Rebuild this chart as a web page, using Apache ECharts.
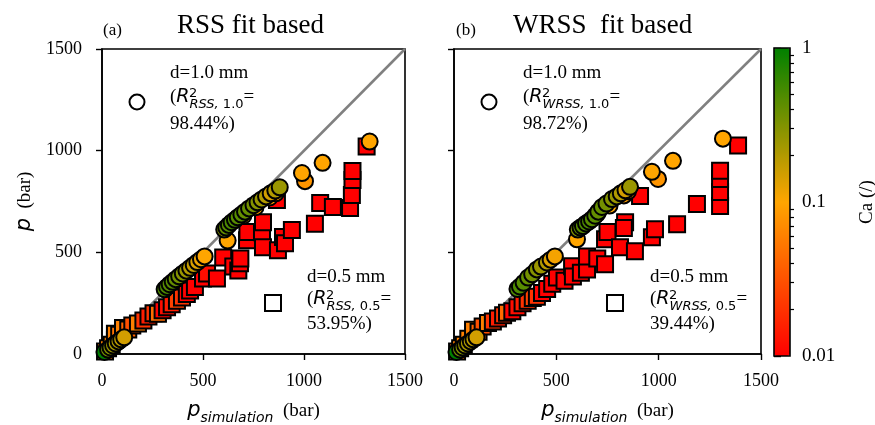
<!DOCTYPE html>
<html>
<head>
<meta charset="utf-8">
<script src="https://cdn.jsdelivr.net/npm/echarts@6/dist/echarts.min.js"></script>
<style>
  html, body { margin: 0; padding: 0; background: #fff; }
  #chart { width: 875px; height: 425px; }
</style>
</head>
<body>
<div id="chart"></div>
<script>
// pressure axes (bar) and colour bar (Ca, log scale)
var pTicks = [0, 500, 1000, 1500];
var caTicks = [0.01, 0.1, 1];
var caMinor = [0.02, 0.03, 0.04, 0.05, 0.06, 0.07, 0.08, 0.09, 0.2, 0.3, 0.4, 0.5, 0.6, 0.7, 0.8, 0.9];
var diag = [0, 1500];

// [p_simulation, p, Ca]  -- (a) RSS fit, d=1.0 mm circles
var circA = [
  [12, 10, 1.0], [30, 22, 0.35], [42, 32, 0.3], [55, 42, 0.25], [68, 52, 0.22], [82, 62, 0.2], [95, 72, 0.18], [110, 82, 0.15],
  [310, 318, 0.5], [322, 330, 0.5], [335, 343, 0.45], [350, 355, 0.45], [365, 368, 0.4], [382, 382, 0.35], [400, 396, 0.3],
  [418, 410, 0.25], [436, 424, 0.2], [454, 438, 0.17], [472, 452, 0.14], [490, 466, 0.12], [508, 480, 0.1],
  [622, 558, 0.1], [700, 680, 0.12], [760, 722, 0.1], [830, 770, 0.09], [860, 790, 0.1],
  [605, 612, 0.3], [615, 622, 0.4], [628, 635, 0.45], [642, 648, 0.5], [658, 660, 0.5], [672, 672, 0.45], [690, 686, 0.45],
  [708, 700, 0.4], [728, 716, 0.4], [750, 732, 0.35], [770, 746, 0.3], [790, 760, 0.25], [812, 775, 0.2], [835, 790, 0.15],
  [858, 804, 0.2], [880, 820, 0.25],
  [1005, 850, 0.08], [990, 890, 0.1], [1092, 940, 0.1], [1325, 1045, 0.1]
];
// (a) RSS fit, d=0.5 mm squares
var sqA = [
  [15, 12, 0.05], [30, 28, 0.06], [48, 45, 0.06], [64, 70, 0.06], [64, 99, 0.06], [85, 95, 0.05], [104, 128, 0.06],
  [130, 120, 0.04], [150, 140, 0.03], [178, 150, 0.06], [205, 165, 0.02], [230, 185, 0.015], [255, 200, 0.02],
  [277, 198, 0.045], [300, 215, 0.01], [322, 230, 0.012], [345, 245, 0.015], [371, 262, 0.025], [396, 278, 0.02],
  [420, 295, 0.01], [436, 312, 0.01], [460, 330, 0.01], [500, 371, 0.01], [520, 396, 0.012], [569, 371, 0.01],
  [600, 475, 0.01], [650, 430, 0.01], [675, 411, 0.01], [683, 446, 0.01], [685, 470, 0.01], [718, 560, 0.01],
  [720, 600, 0.01], [792, 599, 0.01], [797, 525, 0.01], [797, 648, 0.01], [866, 757, 0.01], [871, 510, 0.01],
  [896, 575, 0.01], [906, 545, 0.01], [940, 610, 0.01], [1054, 640, 0.01], [1080, 743, 0.01], [1143, 723, 0.01],
  [1228, 718, 0.01], [1237, 782, 0.01], [1240, 856, 0.01], [1240, 900, 0.01], [1310, 1020, 0.01]
];
// (b) WRSS fit, d=1.0 mm circles
var circB = [
  [12, 10, 1.0], [30, 22, 0.35], [42, 32, 0.3], [55, 42, 0.25], [68, 52, 0.22], [82, 62, 0.2], [95, 72, 0.18], [110, 82, 0.15],
  [310, 320, 0.5], [322, 332, 0.5], [340, 350, 0.45], [362, 376, 0.4], [382, 392, 0.35], [405, 416, 0.3], [425, 430, 0.25],
  [454, 450, 0.2], [472, 464, 0.14], [493, 480, 0.11],
  [601, 564, 0.1], [700, 690, 0.12], [760, 730, 0.1], [830, 780, 0.09], [850, 800, 0.1],
  [605, 612, 0.3], [618, 622, 0.4], [630, 629, 0.45], [645, 642, 0.5], [660, 652, 0.5], [674, 663, 0.45], [690, 680, 0.45],
  [705, 700, 0.4], [723, 723, 0.4], [745, 740, 0.35], [772, 762, 0.3], [795, 775, 0.25], [815, 790, 0.2], [838, 805, 0.15],
  [860, 822, 0.25],
  [997, 861, 0.08], [967, 896, 0.1], [1070, 950, 0.1], [1314, 1059, 0.1]
];
// (b) WRSS fit, d=0.5 mm squares
var sqB = [
  [15, 12, 0.05], [30, 28, 0.06], [48, 45, 0.06], [70, 75, 0.06], [93, 119, 0.06], [120, 110, 0.04], [140, 135, 0.03],
  [166, 153, 0.06], [190, 160, 0.02], [215, 175, 0.015], [240, 190, 0.02], [259, 203, 0.045], [285, 210, 0.01],
  [310, 230, 0.012], [335, 250, 0.015], [360, 262, 0.02], [385, 275, 0.025], [405, 282, 0.02], [430, 300, 0.01],
  [455, 320, 0.01], [480, 345, 0.01], [503, 376, 0.01], [540, 360, 0.01], [577, 431, 0.01], [581, 381, 0.01],
  [620, 400, 0.01], [650, 416, 0.01], [650, 480, 0.01], [700, 470, 0.01], [738, 441, 0.01], [738, 564, 0.01],
  [750, 600, 0.01], [811, 525, 0.01], [836, 648, 0.01], [830, 620, 0.01], [884, 505, 0.01], [909, 777, 0.01],
  [967, 574, 0.01], [982, 614, 0.01], [1090, 638, 0.01], [1187, 738, 0.01], [1300, 728, 0.01], [1300, 797, 0.01],
  [1300, 861, 0.01], [1300, 901, 0.01], [1388, 1025, 0.01]
];

var SERIF = 'Liberation Serif';
var SANS = 'DejaVu Sans';

function toLog(arr) {
  return arr.map(function (d) { return [d[0], d[1], Math.log10(d[2])]; });
}

function panelAxis(grid, showLabel, isX) {
  return {
    gridIndex: grid,
    type: 'value',
    min: pTicks[0],
    max: pTicks[pTicks.length - 1],
    interval: 500,
    axisLine: { show: true, lineStyle: { color: '#000', width: 1.6 } },
    axisTick: { show: true, inside: false, length: 6, lineStyle: { color: '#000', width: 1.4 } },
    axisLabel: {
      show: showLabel, color: '#000', fontFamily: SERIF, fontSize: 18, margin: isX ? 18 : 20,
      formatter: function (v) { return String(v); }
    },
    splitLine: { show: false }
  };
}

var nameRich = {
  p: { fontFamily: SANS, fontStyle: 'italic', fontSize: 21, lineHeight: 28, color: '#000' },
  s: { fontFamily: SANS, fontStyle: 'italic', fontSize: 14, lineHeight: 14, verticalAlign: 'bottom', color: '#000' },
  b: { fontFamily: SERIF, fontSize: 19, lineHeight: 28, color: '#000' }
};

var xA = panelAxis(0, true, true);
xA.name = '{p|p}{s|simulation}{b|  (bar)}';
xA.nameLocation = 'middle';
xA.nameGap = 43;
xA.nameTextStyle = { rich: nameRich };
var xB = panelAxis(1, true, true);
xB.name = xA.name;
xB.nameLocation = 'middle';
xB.nameGap = 43;
xB.nameTextStyle = { rich: nameRich };
var yA = panelAxis(0, true, false);
yA.name = '{p|p}{b|  (bar)}';
yA.nameLocation = 'middle';
yA.nameGap = 63;
yA.nameRotate = 90;
yA.nameTextStyle = { rich: nameRich };
var yB = panelAxis(1, false, false);

// "(R^2_{sub}=" : italic letters, upright numbers in the subscript
function rLabel(x, y, subIt, subNum) {
  return [
    {
      type: 'text', left: x, top: y - 14,
      style: {
        text: '{n|(}{r|R}{s|' + subIt + '}{t|' + subNum + '}{n|=}',
        rich: {
          n: { fontFamily: SERIF, fontSize: 19, lineHeight: 28, fill: '#000' },
          r: { fontFamily: SANS, fontStyle: 'italic', fontSize: 19, lineHeight: 28, fill: '#000' },
          s: { fontFamily: SANS, fontStyle: 'italic', fontSize: 13, lineHeight: 13, verticalAlign: 'bottom', fill: '#000' },
          t: { fontFamily: SANS, fontSize: 13, lineHeight: 13, verticalAlign: 'bottom', fill: '#000' }
        }
      }
    },
    {
      type: 'text', left: x + 19, top: y - 15,
      style: { text: '2', fontFamily: SANS, fontSize: 13, fill: '#000' }
    }
  ];
}

function plainText(x, y, str, size) {
  return {
    type: 'text', left: x, top: y - size * 0.6,
    style: { text: str, fontFamily: SERIF, fontSize: size, fill: '#000' }
  };
}

var graphics = [
  plainText(103, 32, '(a)', 17),
  { type: 'text', left: 177, top: 12, style: { text: 'RSS fit based', fontFamily: SERIF, fontSize: 27, fill: '#000' } },
  plainText(456, 32, '(b)', 17),
  { type: 'text', left: 513, top: 12, style: { text: 'WRSS  fit based', fontFamily: SERIF, fontSize: 27, fill: '#000' } },

  plainText(170, 75, 'd=1.0 mm', 19),
  { type: 'circle', shape: { cx: 137, cy: 102, r: 7.5 }, style: { fill: '#fff', stroke: '#000', lineWidth: 2 } },
  plainText(170, 126, '98.44%)', 19),
  plainText(307, 279, 'd=0.5 mm', 19),
  { type: 'rect', shape: { x: 265, y: 295, width: 16, height: 16 }, style: { fill: '#fff', stroke: '#000', lineWidth: 2 } },
  plainText(307, 326, '53.95%)', 19),

  plainText(523, 75, 'd=1.0 mm', 19),
  { type: 'circle', shape: { cx: 489, cy: 102, r: 7.5 }, style: { fill: '#fff', stroke: '#000', lineWidth: 2 } },
  plainText(523, 126, '98.72%)', 19),
  plainText(650, 279, 'd=0.5 mm', 19),
  { type: 'rect', shape: { x: 607, y: 295, width: 16, height: 16 }, style: { fill: '#fff', stroke: '#000', lineWidth: 2 } },
  plainText(650, 326, '39.44%)', 19)
].concat(rLabel(170, 102, 'RSS, ', '1.0'), rLabel(307, 304, 'RSS, ', '0.5'),
         rLabel(523, 102, 'WRSS, ', '1.0'), rLabel(650, 304, 'WRSS, ', '0.5'));

function scatter(name, idx, symbol, data) {
  return {
    name: name,
    type: 'scatter',
    xAxisIndex: idx,
    yAxisIndex: idx,
    symbol: symbol,
    symbolSize: 16,
    data: toLog(data),
    itemStyle: { borderColor: '#000', borderWidth: 2, opacity: 1 },
    z: 3
  };
}

function diagLine(idx) {
  return {
    type: 'line',
    xAxisIndex: idx,
    yAxisIndex: idx,
    data: diag.map(function (v) { return [v, v]; }),
    symbol: 'none',
    lineStyle: { color: '#808080', width: 2.5 },
    z: 2,
    silent: true
  };
}

var option = {
  animation: false,
  backgroundColor: '#fff',
  grid: [
    { left: 102, top: 49, width: 303, height: 305, outerBoundsMode: 'none', show: true, borderColor: '#000', borderWidth: 1.6, backgroundColor: 'transparent' },
    { left: 454, top: 49, width: 307, height: 305, outerBoundsMode: 'none', show: true, borderColor: '#000', borderWidth: 1.6, backgroundColor: 'transparent' },
    { left: 774, top: 48, width: 16, height: 308, outerBoundsMode: 'none', show: true, borderColor: '#000', borderWidth: 1.6, backgroundColor: 'transparent', z: 10 }
  ],
  xAxis: [xA, xB, { gridIndex: 2, type: 'value', show: false, min: 0, max: 1 }],
  yAxis: [
    yA, yB,
    {
      gridIndex: 2, type: 'value', position: 'right', min: -2, max: 0,
      name: 'Ca (/)', nameLocation: 'middle', nameGap: 68, nameRotate: 90,
      nameTextStyle: { fontFamily: SERIF, fontSize: 19, color: '#000' },
      axisLine: { show: false },
      axisTick: { show: true, length: 7, customValues: caTicks.map(Math.log10), lineStyle: { color: '#000', width: 1.4 } },
      axisLabel: {
        show: true, customValues: caTicks.map(Math.log10), margin: 12, color: '#000', fontFamily: SERIF, fontSize: 19,
        formatter: function (v) { return String(caTicks[Math.round(v) + 2]); }
      },
      splitLine: { show: false }
    },
    {
      gridIndex: 2, type: 'value', position: 'right', min: -2, max: 0,
      axisLine: { show: false },
      axisTick: { show: true, length: 4, customValues: caMinor.map(Math.log10), lineStyle: { color: '#000', width: 1.2 } },
      axisLabel: { show: false },
      splitLine: { show: false }
    }
  ],
  visualMap: {
    type: 'continuous',
    min: -2,
    max: 0,
    dimension: 2,
    seriesIndex: [0, 1, 2, 3],
    calculable: false,
    hoverLink: false,
    left: 774,
    top: 48,
    itemWidth: 16,
    itemHeight: 308,
    padding: 0,
    handleSize: 0,
    indicatorSize: 0,
    handleStyle: { opacity: 0 },
    indicatorStyle: { opacity: 0 },
    inRange: { color: ['#ff0000', '#ffa500', '#008000'] }
  },
  series: [
    scatter('d=0.5 mm (a)', 0, 'rect', sqA),
    scatter('d=1.0 mm (a)', 0, 'circle', circA),
    scatter('d=0.5 mm (b)', 1, 'rect', sqB),
    scatter('d=1.0 mm (b)', 1, 'circle', circB),
    diagLine(0),
    diagLine(1)
  ],
  graphic: graphics
};

var myChart = echarts.init(document.getElementById('chart'));
myChart.setOption(option);
</script>
</body>
</html>
